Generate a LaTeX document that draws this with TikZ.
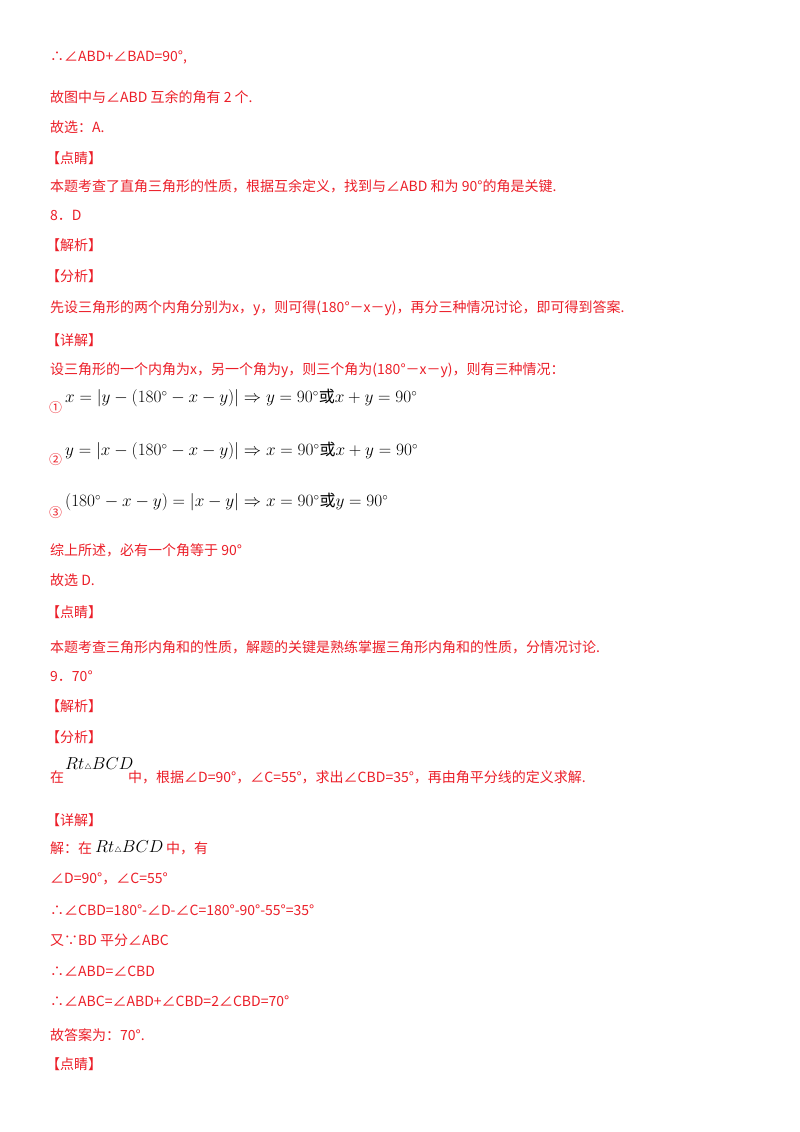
\documentclass[tikz,border=0pt]{standalone}
\usepackage{fontspec}
\setmainfont{Noto Sans CJK SC}
\definecolor{rd}{RGB}{235,30,40}
\begin{document}
\begin{tikzpicture}[x=1pt,y=-1pt,
 t/.style={anchor=west,inner sep=0,text=rd,font=\fontsize{14}{16}\selectfont},
 m/.style={anchor=west,inner sep=0,text=black,font=\fontsize{16}{18}\selectfont}]
\useasboundingbox (0,0) rectangle (800,1132);
\node[t] (l1) at (50,57) {∴∠ABD+∠BAD=90°,};
\node[t] (l2) at (50,97) {故图中与∠ABD 互余的角有 2 个.};
\node[t] (l3) at (50,127) {故选：A.};
\node[t] (l4) at (46,158) {【点睛】};
\node[t] (l5) at (50,186) {本题考查了直角三角形的性质，根据互余定义，找到与∠ABD 和为 90°的角是关键.};
\node[t] (l6) at (50,215) {8．D};
\node[t] (l7) at (46,245) {【解析】};
\node[t] (l8) at (46,276) {【分析】};
\node[t] (l9) at (50,308) {先设三角形的两个内角分别为x，y，则可得(180°－x－y)，再分三种情况讨论，即可得到答案.};
\node[t] (l10) at (46,340) {【详解】};
\node[t] (l11) at (50,370) {设三角形的一个内角为x，另一个角为y，则三个角为(180°－x－y)，则有三种情况：};
\node[t,font=\fontsize{13}{14}\selectfont] (c1) at (49,408) {①};
\node[m] (f1) at (65,398) {$x=\left|y-(180^\circ-x-y)\right|\Rightarrow y=90^\circ$或$x+y=90^\circ$};
\node[t,font=\fontsize{13}{14}\selectfont] (c2) at (49,460) {②};
\node[m] (f2) at (65,451) {$y=\left|x-(180^\circ-x-y)\right|\Rightarrow x=90^\circ$或$x+y=90^\circ$};
\node[t,font=\fontsize{13}{14}\selectfont] (c3) at (49,513) {③};
\node[m] (f3) at (65,502) {$(180^\circ-x-y)=\left|x-y\right|\Rightarrow x=90^\circ$或$y=90^\circ$};
\node[t] (l12) at (50,550) {综上所述，必有一个角等于 90°};
\node[t] (l13) at (50,580) {故选 D.};
\node[t] (l14) at (46,612) {【点睛】};
\node[t] (l15) at (50,647) {本题考查三角形内角和的性质，解题的关键是熟练掌握三角形内角和的性质，分情况讨论.};
\node[t] (l16) at (50,676) {9．70°};
\node[t] (l17) at (46,706) {【解析】};
\node[t] (l18) at (46,737) {【分析】};
\node[t] (l19) at (50,777) {在};
\node[m] (rt1) at (65,764) {$Rt{\scriptscriptstyle\triangle}BCD$};
\node[t] (l20) at (128,777) {中，根据∠D=90°，∠C=55°，求出∠CBD=35°，再由角平分线的定义求解.};
\node[t] (l21) at (46,820) {【详解】};
\node[t] (l22) at (50,848) {解：在};
\node[m] (rt2) at (95,847) {$Rt{\scriptscriptstyle\triangle}BCD$};
\node[t] (l23) at (166,848) {中，有};
\node[t] (l24) at (50,879) {∠D=90°，∠C=55°};
\node[t] (l25) at (50,910) {∴∠CBD=180°-∠D-∠C=180°-90°-55°=35°};
\node[t] (l26) at (50,940) {又∵BD 平分∠ABC};
\node[t] (l27) at (50,971) {∴∠ABD=∠CBD};
\node[t] (l28) at (50,1001) {∴∠ABC=∠ABD+∠CBD=2∠CBD=70°};
\node[t] (l29) at (50,1035) {故答案为：70°.};
\node[t] (l30) at (46,1064) {【点睛】};
\end{tikzpicture}
\end{document}
